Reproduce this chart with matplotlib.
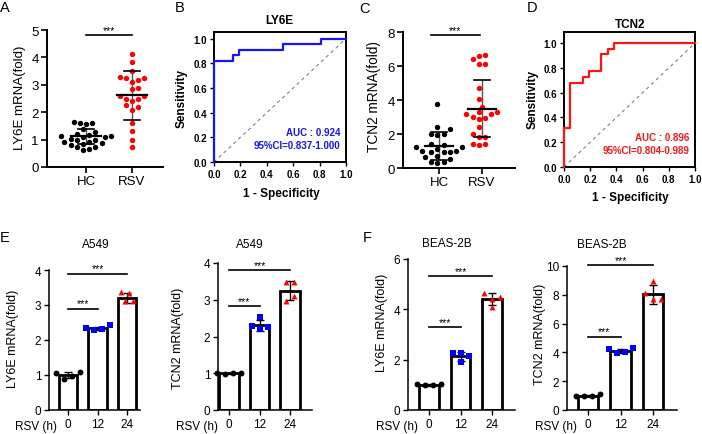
import matplotlib
matplotlib.use('Agg')
import matplotlib.pyplot as plt
import numpy as np

plt.rcParams['font.family'] = ['Liberation Sans', 'DejaVu Sans']

# ---- data ----
groups_top = ['HC', 'RSV']

ly6e_hc = [1.58, 1.62, 1.66, 1.62, 1.27, 1.21, 1.03, 1.09, 1.12, 1.12, 1.09, 0.91,
           0.91, 0.89, 0.67, 0.73, 0.73, 0.79, 0.61, 0.85, 0.97, 1.00, 1.38, 1.15]
ly6e_rsv = [4.12, 3.85, 3.30, 3.26, 3.26, 3.17, 3.50, 3.10, 2.85, 2.90, 2.60, 2.60,
            2.50, 2.50, 2.40, 2.25, 2.20, 2.07, 1.60, 1.30, 0.97, 0.73]
ly6e_mean = [1.12, 2.61]
ly6e_sd = [0.28, 0.90]

tcn2_hc = [3.77, 2.44, 2.30, 2.00, 2.00, 1.95, 1.36, 1.41, 1.22, 1.22, 0.98,
           0.92, 1.02, 0.96, 0.92, 0.73, 0.63, 0.33, 0.29, 0.33, 1.10, 0.55]
tcn2_rsv = [6.66, 6.42, 6.58, 6.13, 6.13, 4.70, 4.07, 3.18, 3.28, 3.18, 3.28,
            2.89, 2.93, 2.99, 2.40, 2.00, 1.81, 1.81, 1.41, 1.41, 1.36, 3.60]
tcn2_mean = [1.30, 3.50]
tcn2_sd = [0.80, 1.70]

roc_ly6e_fpr = [0, 0, 0.143, 0.143, 0.190, 0.190, 0.524, 0.524, 0.810, 0.810, 1.0]
roc_ly6e_tpr = [0, 0.818, 0.818, 0.864, 0.864, 0.909, 0.909, 0.955, 0.955, 1.0, 1.0]
roc_tcn2_fpr = [0, 0, 0.048, 0.048, 0.143, 0.143, 0.190, 0.190, 0.286, 0.286,
                0.333, 0.333, 0.381, 0.381, 1.0]
roc_tcn2_tpr = [0, 0.318, 0.318, 0.682, 0.682, 0.727, 0.727, 0.773, 0.773, 0.909,
                0.909, 0.955, 0.955, 1.0, 1.0]

hours = ['0', '12', '24']

a549_ly6e_pts = [[1.10, 1.06, 0.96, 0.90], [2.42, 2.35, 2.32, 2.30], [3.37, 3.33, 3.11, 3.11]]
a549_ly6e_mean = [1.00, 2.33, 3.20]
a549_ly6e_sd = [0.09, 0.05, 0.14]

a549_tcn2_pts = [[1.02, 1.00, 1.00, 0.98], [2.52, 2.28, 2.25, 2.20], [3.47, 3.47, 3.11, 2.97]]
a549_tcn2_mean = [1.00, 2.30, 3.25]
a549_tcn2_sd = [0.02, 0.14, 0.25]

beas_ly6e_pts = [[1.05, 1.02, 1.00, 0.98], [2.28, 2.15, 2.25, 1.90], [4.65, 4.50, 4.40, 4.08]]
beas_ly6e_mean = [1.00, 2.13, 4.40]
beas_ly6e_sd = [0.03, 0.17, 0.24]

beas_tcn2_pts = [[1.10, 1.00, 1.00, 0.95], [4.30, 4.25, 4.05, 3.95], [8.96, 8.10, 7.69, 7.69]]
beas_tcn2_mean = [1.00, 4.10, 8.03]
beas_tcn2_sd = [0.05, 0.17, 0.65]

# ---- helpers ----
W, H = 702, 435
fig = plt.figure(figsize=(W / 100, H / 100), dpi=100)


def add_ax(l, t, r, b):
    return fig.add_axes([l / W, 1 - b / H, (r - l) / W, (b - t) / H])


def ftext(x, y, s, **kw):
    fig.text(x / W, 1 - y / H, s, **kw)


def swarm(ax, vals, d):
    # simple beeswarm in pixel space, returned as x offsets in data units
    pos = ax.get_position()
    x0, x1 = ax.get_xlim()
    y0, y1 = ax.get_ylim()
    px_x = pos.width * W / (x1 - x0)
    px_y = pos.height * H / (y1 - y0)
    vals = np.asarray(vals)
    offs = np.zeros(len(vals))
    placed = []
    for i in np.argsort(vals):
        y = vals[i] * px_y
        for k in range(60):
            c = ((k + 1) // 2) * d * 0.5 * (1 if k % 2 else -1)
            if all((c - px) ** 2 + (y - py) ** 2 >= d * d for px, py in placed):
                break
        placed.append((c, y))
        offs[i] = c
    offs -= (offs.max() + offs.min()) / 2
    return offs / px_x


def dot_panel(ax, data, means, sds, colors, ymax, yticks, xlim):
    ax.set_xlim(xlim)
    ax.set_ylim(0, ymax)
    for i, (vals, c) in enumerate(zip(data, colors)):
        offs = swarm(ax, vals, 6.2)
        ax.scatter(i + offs, vals, s=15, color=c, linewidths=0, zorder=3, clip_on=False)
        m, s = means[i], sds[i]
        ax.plot([i, i], [m - s, m + s], color='#555555', lw=1, zorder=2)
        ax.plot([i - 0.33, i + 0.33], [m, m], color='black', lw=1.6, zorder=4)
        for yy in (m - s, m + s):
            ax.plot([i - 0.18, i + 0.18], [yy, yy], color='black', lw=1.2, zorder=4)
    for sp in ['top', 'right']:
        ax.spines[sp].set_visible(False)
    for sp in ['left', 'bottom']:
        ax.spines[sp].set_linewidth(1.4)
    ax.set_xticks([0, 1])
    ax.set_xticklabels(groups_top)
    ax.set_yticks(yticks)
    ax.tick_params(axis='both', direction='out', length=4, width=1.2, labelsize=9.5, pad=2)


def roc_panel(ax, fpr, tpr, color, ytop, auc, ci):
    ax.plot([0, 1], [0, 1], ls=(0, (3, 3)), color='#808080', lw=0.8, zorder=1)
    ax.plot(fpr, tpr, color=color, lw=1.6, zorder=3, clip_on=False)
    ax.set_xlim(0, 1)
    ax.set_ylim(0, ytop)
    ticks = np.arange(0, 1.01, 0.2)
    ax.set_xticks(ticks)
    ax.set_yticks(ticks)
    ax.set_xticklabels(['%.1f' % t for t in ticks], fontweight='bold')
    ax.set_yticklabels(['%.1f' % t for t in ticks], fontweight='bold')
    ax.tick_params(axis='both', direction='out', length=3, width=1, labelsize=7, pad=2)
    for sp in ax.spines.values():
        sp.set_linewidth(1.4)
    ax.text(0.96, 0.24, auc, color=color, fontsize=7, fontweight='bold', ha='right', va='center')
    ax.text(0.96, 0.135, ci, color=color, fontsize=7, fontweight='bold', ha='right', va='center')


def bar_panel(ax, pts, means, sds, ymax, yticks, xlim, sig):
    ax.set_xlim(xlim)
    ax.set_ylim(0, ymax)
    x = np.arange(len(hours))
    ax.bar(x, means, width=0.63, color='white', edgecolor='black', linewidth=2, zorder=1)
    ax.errorbar(x, means, yerr=sds, fmt='none', ecolor='black', elinewidth=1,
                capsize=3, capthick=1, zorder=2)
    styles = [('o', 'black'), ('s', '#0000ff'), ('^', '#ff0000')]
    for i, vals in enumerate(pts):
        offs = swarm(ax, vals, 8.0)
        ax.scatter(i + offs, vals, s=18, marker=styles[i][0], color=styles[i][1],
                   linewidths=0, zorder=3, clip_on=False)
    for (x0, x1), y in zip([(0, 1), (0, 2)], sig):
        ax.plot([x0, x1], [y, y], color='black', lw=1.2, clip_on=False)
        ax.annotate('***', xy=((x0 + x1) / 2, y), xytext=(0, 0), textcoords='offset points',
                    ha='center', va='bottom', fontsize=7.5, annotation_clip=False)
    for sp in ['top', 'right']:
        ax.spines[sp].set_visible(False)
    for sp in ['left', 'bottom']:
        ax.spines[sp].set_linewidth(1.1)
    ax.set_xticks(x)
    ax.set_xticklabels(hours)
    ax.set_yticks(yticks)
    ax.tick_params(axis='both', direction='out', length=3.5, width=1, labelsize=8.5, pad=2)
    ax.annotate('RSV (h)', xy=(0, 0), xycoords=('data', 'axes fraction'), xytext=(-8, -11.5),
                textcoords='offset points', ha='right', va='center', fontsize=8.5,
                annotation_clip=False)


# ---- panel A ----
axA = add_ax(47, 31, 163, 168)
dot_panel(axA, [ly6e_hc, ly6e_rsv], ly6e_mean, ly6e_sd, ['black', '#ff0000'],
          5, range(0, 6), (-0.847, 1.672))
axA.plot([0, 1], [4.82, 4.82], color='black', lw=1.2, clip_on=False)
axA.annotate('***', xy=(0.5, 4.82), xytext=(0, 0), textcoords='offset points',
             ha='center', va='bottom', fontsize=7.5, annotation_clip=False)
ftext(20, 98, 'LY6E mRNA(fold)', rotation=90, ha='center', va='center', fontsize=9.5)

# ---- panel B ----
axB = add_ax(214, 33, 346, 163)
roc_panel(axB, roc_ly6e_fpr, roc_ly6e_tpr, '#1414ff', 1.054, 'AUC : 0.924', '95%CI=0.837-1.000')
ftext(279, 21, 'LY6E', ha='center', va='center', fontsize=8.5, fontweight='bold')
ftext(182, 98, 'Sensitivity', rotation=90, ha='center', va='center', fontsize=8.5, fontweight='bold')
ftext(281, 194, '1 - Specificity', ha='center', va='center', fontsize=8.5, fontweight='bold')

# ---- panel C ----
axC = add_ax(403, 33, 515, 169)
dot_panel(axC, [tcn2_hc, tcn2_rsv], tcn2_mean, tcn2_sd, ['black', '#ff0000'],
          8, range(0, 9, 2), (-0.836, 1.768))
axC.plot([-0.18, 0.95], [7.84, 7.84], color='black', lw=1.2, clip_on=False)
axC.annotate('***', xy=(0.38, 7.84), xytext=(0, 0), textcoords='offset points',
             ha='center', va='bottom', fontsize=7.5, annotation_clip=False)
ftext(374, 96, 'TCN2 mRNA(fold)', rotation=90, ha='center', va='center', fontsize=9.8)

# ---- panel D ----
axD = add_ax(564, 33, 695, 168)
roc_panel(axD, roc_tcn2_fpr, roc_tcn2_tpr, '#ff1414', 1.09, 'AUC : 0.896', '95%CI=0.804-0.989')
ftext(630, 25, 'TCN2', ha='center', va='center', fontsize=8.5, fontweight='bold')
ftext(533, 100, 'Sensitivity', rotation=90, ha='center', va='center', fontsize=8.5, fontweight='bold')
ftext(630, 198, '1 - Specificity', ha='center', va='center', fontsize=8.5, fontweight='bold')

# ---- panel E ----
axE1 = add_ax(49, 271, 140, 411)
bar_panel(axE1, a549_ly6e_pts, a549_ly6e_mean, a549_ly6e_sd, 4, range(0, 5),
          (-0.645, 2.441), [2.9, 3.9])
ftext(96, 245, 'A549', ha='center', va='center', fontsize=8.5)
ftext(13, 339, 'LY6E mRNA(fold)', rotation=90, ha='center', va='center', fontsize=9)

axE2 = add_ax(218, 264, 312, 411)
bar_panel(axE2, a549_tcn2_pts, a549_tcn2_mean, a549_tcn2_sd, 4, range(0, 5),
          (-0.36, 2.72), [2.84, 3.82])
ftext(250, 245, 'A549', ha='center', va='center', fontsize=8.5)
ftext(178, 338, 'TCN2 mRNA(fold)', rotation=90, ha='center', va='center', fontsize=9)

# ---- panel F ----
axF1 = add_ax(408, 260, 515, 411)
bar_panel(axF1, beas_ly6e_pts, beas_ly6e_mean, beas_ly6e_sd, 6, range(0, 7, 2),
          (-0.667, 2.73), [3.3, 5.34])
ftext(447, 244, 'BEAS-2B', ha='center', va='center', fontsize=8.5)
ftext(382, 323, 'LY6E mRNA(fold)', rotation=90, ha='center', va='center', fontsize=9)

axF2 = add_ax(567, 267, 677, 411)
bar_panel(axF2, beas_tcn2_pts, beas_tcn2_mean, beas_tcn2_sd, 10, range(0, 11, 2),
          (-0.646, 2.73), [5.1, 10.05])
ftext(602, 245, 'BEAS-2B', ha='center', va='center', fontsize=8.5)
ftext(540, 334, 'TCN2 mRNA(fold)', rotation=90, ha='center', va='center', fontsize=9)

# panel letters
for lab, x, y in [('A', 5, 8), ('B', 180, 8), ('C', 365, 9), ('D', 532, 8),
                  ('E', 5, 238), ('F', 367, 238)]:
    ftext(x, y, lab, ha='center', va='center', fontsize=10.5)

fig.savefig('out.png', dpi=100)
